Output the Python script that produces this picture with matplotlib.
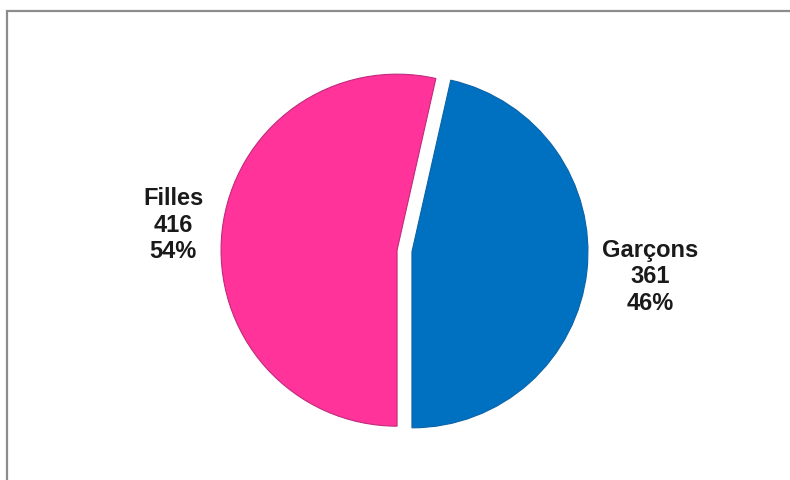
import matplotlib.pyplot as plt
from matplotlib.patches import Rectangle

labels = ["Garçons", "Filles"]
counts = [361, 416]
colors = ["#0070C0", "#FF3399"]
edge_colors = ["#0a63a8", "#c02a7c"]

total = sum(counts)
label_text = [f"{lab}\n{c}\n{round(100 * c / total)}%" for lab, c in zip(labels, counts)]

fig = plt.figure(figsize=(7.9, 4.8), dpi=100)
ax = fig.add_axes([0, 0, 1, 1])

# explode is in data units here since the axes is in pixels
wedges, texts = ax.pie(counts, colors=colors, labels=label_text,
                       startangle=-90, counterclock=True,
                       explode=[7.5, 7.5], radius=176, center=(404.5, 229),
                       labeldistance=1.28, frame=True,
                       wedgeprops=dict(linewidth=0.8),
                       textprops=dict(fontsize=17, fontweight="bold",
                                      family="Liberation Sans", color="#1a1a1a"))
for w, ec in zip(wedges, edge_colors):
    w.set_edgecolor(ec)
for t in texts:
    t.set_ha("center")
    t.set_va("center")
    t.set_linespacing(1.2)
# right label sits a bit further out than the left one
texts[0].set_x(texts[0].get_position()[0] + 14)

ax.set_xlim(0, 790)
ax.set_ylim(0, 480)
ax.set_aspect("equal")
ax.axis("off")

# grey frame, only left and top edges visible
fig.add_artist(Rectangle((7 / 790, -0.2), 2, (469 / 480) + 0.2, transform=fig.transFigure,
                         fill=False, edgecolor="#8c8c8c", linewidth=1.6))

plt.savefig("out.png", dpi=100)
